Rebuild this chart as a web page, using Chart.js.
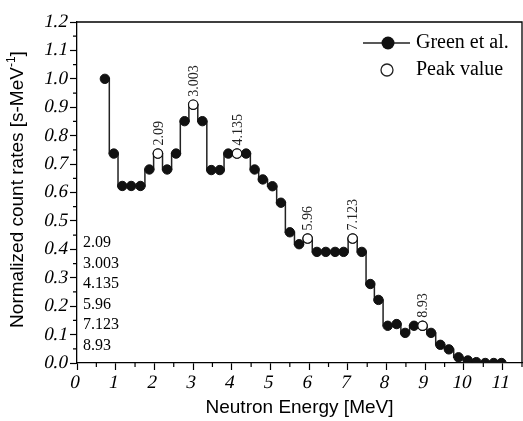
<!DOCTYPE html>
<html>
<head>
<meta charset="utf-8">
<script src="https://cdn.jsdelivr.net/npm/chart.js@4/dist/chart.umd.min.js"></script>
<style>
  body { margin: 0; background: #fff; }
  canvas { display: block; }
</style>
</head>
<body>
<canvas id="spectrum" width="523" height="421"></canvas>
<script>
// values
const energy = [0.72, 0.95, 1.17, 1.40, 1.64, 1.87, 2.09, 2.33, 2.56, 2.78, 3.003, 3.24,
    3.47, 3.69, 3.91, 4.135, 4.37, 4.59, 4.80, 5.05, 5.27, 5.50, 5.74, 5.96, 6.20, 6.43,
    6.67, 6.89, 7.123, 7.36, 7.58, 7.79, 8.03, 8.26, 8.48, 8.71, 8.93, 9.15, 9.39, 9.61,
    9.86, 10.10, 10.32, 10.55, 10.77, 10.97];
const rates = [1.0, 0.737, 0.623, 0.623, 0.623, 0.681, 0.737, 0.681, 0.737, 0.851, 0.909, 0.851,
    0.679, 0.679, 0.737, 0.737, 0.737, 0.681, 0.646, 0.622, 0.564, 0.46, 0.418, 0.438, 0.391, 0.391,
    0.391, 0.391, 0.438, 0.391, 0.278, 0.222, 0.131, 0.137, 0.106, 0.131, 0.131, 0.106, 0.064, 0.048,
    0.02, 0.009, 0.003, 0, 0, 0];
const peakEnergy = [2.09, 3.003, 4.135, 5.96, 7.123, 8.93];
const peakRate = [0.737, 0.909, 0.737, 0.438, 0.438, 0.131];
const peakLabels = ['2.09', '3.003', '4.135', '5.96', '7.123', '8.93'];
const xTicks = [0, 1, 2, 3, 4, 5, 6, 7, 8, 9, 10, 11];

const serif = 'Liberation Serif';
const sans = 'Liberation Sans';

// slanted serif text (the tick labels of the original are italic)
function slantText(ctx, text, x, y) {
    ctx.save();
    ctx.setTransform(1, 0, -0.21, 1, x, y);
    ctx.fillText(text, 0, 0);
    ctx.restore();
}

// extra drawing: frame, tick labels, minor ticks, y title, peak labels, list, legend
const extras = {
    id: 'extras',
    afterDraw(chart) {
        const ctx = chart.ctx;
        const area = chart.chartArea;
        const xs = chart.scales.x;
        const ys = chart.scales.y;
        ctx.save();

        // top + right border
        ctx.strokeStyle = '#000';
        ctx.lineWidth = 1.3;
        ctx.beginPath();
        ctx.moveTo(area.left, area.top);
        ctx.lineTo(area.right, area.top);
        ctx.lineTo(area.right, area.bottom);
        ctx.stroke();

        // minor ticks
        ctx.lineWidth = 1.2;
        ctx.beginPath();
        for (let v = 0.5; v <= 11.5; v += 1) {
            const px = xs.getPixelForValue(v);
            ctx.moveTo(px, area.bottom);
            ctx.lineTo(px, area.bottom + 4);
        }
        for (let v = 0.05; v < 1.2; v += 0.1) {
            const py = ys.getPixelForValue(v);
            ctx.moveTo(area.left, py);
            ctx.lineTo(area.left - 4, py);
        }
        ctx.stroke();

        // tick labels
        ctx.fillStyle = '#000';
        ctx.font = '19px ' + serif;
        ctx.textAlign = 'center';
        ctx.textBaseline = 'top';
        xs.ticks.forEach(t => {
            slantText(ctx, String(t.value), xs.getPixelForValue(t.value), area.bottom + 11);
        });
        ctx.textAlign = 'right';
        ctx.textBaseline = 'middle';
        ys.ticks.forEach(t => {
            slantText(ctx, t.value.toFixed(1), area.left - 9, ys.getPixelForValue(t.value));
        });

        // y axis title with superscript
        ctx.translate(18, (area.top + area.bottom) / 2 - 3);
        ctx.rotate(-Math.PI / 2);
        ctx.textBaseline = 'middle';
        ctx.textAlign = 'left';
        const main = 'Normalized count rates [s-MeV';
        ctx.font = '19px ' + sans;
        const wMain = ctx.measureText(main).width;
        const wEnd = ctx.measureText(']').width;
        ctx.font = '12px ' + sans;
        const wSup = ctx.measureText('-1').width;
        let x0 = -(wMain + wSup + wEnd) / 2;
        ctx.font = '19px ' + sans;
        ctx.fillText(main, x0, 0);
        ctx.font = '12px ' + sans;
        ctx.fillText('-1', x0 + wMain, -6);
        ctx.font = '19px ' + sans;
        ctx.fillText(']', x0 + wMain + wSup, 0);
        ctx.setTransform(1, 0, 0, 1, 0, 0);

        // rotated labels above the peaks
        const peaks = chart.getDatasetMeta(1).data;
        ctx.font = '14px ' + serif;
        ctx.fillStyle = '#222';
        peaks.forEach((p, i) => {
            ctx.save();
            ctx.translate(p.x + 1, p.y - 8);
            ctx.rotate(-Math.PI / 2);
            ctx.textAlign = 'left';
            ctx.textBaseline = 'middle';
            ctx.fillText(peakLabels[i], 0, 0);
            ctx.restore();
        });

        // list of peak energies in the lower left
        ctx.font = '16px ' + serif;
        ctx.fillStyle = '#000';
        ctx.textAlign = 'left';
        ctx.textBaseline = 'alphabetic';
        peakLabels.forEach((t, i) => {
            ctx.fillText(t, area.left + 6, 247 + i * 20.6);
        });

        // legend
        ctx.strokeStyle = '#222';
        ctx.lineWidth = 1.5;
        ctx.beginPath();
        ctx.moveTo(363, 43);
        ctx.lineTo(410, 43);
        ctx.stroke();
        ctx.fillStyle = '#111';
        ctx.beginPath();
        ctx.arc(388, 43, 6.5, 0, Math.PI * 2);
        ctx.fill();
        ctx.fillStyle = '#fff';
        ctx.lineWidth = 1.3;
        ctx.beginPath();
        ctx.arc(387, 70, 6, 0, Math.PI * 2);
        ctx.fill();
        ctx.stroke();
        ctx.fillStyle = '#000';
        ctx.font = '20px ' + serif;
        ctx.textBaseline = 'middle';
        ctx.fillText('Green et al.', 416, 43);
        ctx.fillText('Peak value', 416, 70);

        ctx.restore();
    }
};

const ctx = document.getElementById('spectrum').getContext('2d');
const spectrumChart = new Chart(ctx, {
    type: 'line',
    data: {
        datasets: [{
            label: 'Green et al.',
            data: energy.map((e, i) => ({ x: e, y: rates[i] })),
            stepped: 'middle',
            borderColor: '#222',
            borderWidth: 1.5,
            pointRadius: 4.7,
            pointBackgroundColor: '#111',
            pointBorderColor: '#111',
            pointBorderWidth: 1,
            fill: false,
            order: 1
        }, {
            label: 'Peak value',
            data: peakEnergy.map((e, i) => ({ x: e, y: peakRate[i] })),
            showLine: false,
            pointRadius: 4.7,
            pointBackgroundColor: '#fff',
            pointBorderColor: '#111',
            pointBorderWidth: 1.2,
            order: 0
        }]
    },
    options: {
        responsive: false,
        devicePixelRatio: 1,
        animation: false,
        events: [],
        layout: { autoPadding: false, padding: { top: 22, right: 1, left: 0, bottom: 0 } },
        plugins: {
            legend: { display: false },
            tooltip: { enabled: false }
        },
        scales: {
            x: {
                type: 'linear',
                min: 0,
                max: 11.5,
                afterFit: (s) => { s.height = 58; s.paddingLeft = 0; s.paddingRight = 0; },
                afterBuildTicks: (s) => { s.ticks = xTicks.map(v => ({ value: v })); },
                ticks: { display: false, includeBounds: false, autoSkip: false },
                grid: { drawOnChartArea: false, tickLength: 7, tickWidth: 1.2, tickColor: '#000' },
                border: { display: true, color: '#000', width: 1.3 },
                title: {
                    display: true,
                    text: 'Neutron Energy [MeV]',
                    color: '#000',
                    font: { family: sans, size: 19 },
                    padding: { top: 0, bottom: 2 }
                }
            },
            y: {
                min: 0,
                max: 1.2,
                afterFit: (s) => { s.width = 77; },
                ticks: { display: false, stepSize: 0.1, autoSkip: false },
                grid: { drawOnChartArea: false, tickLength: 7, tickWidth: 1.2, tickColor: '#000' },
                border: { display: true, color: '#000', width: 1.3 }
            }
        }
    },
    plugins: [extras]
});
</script>
</body>
</html>
